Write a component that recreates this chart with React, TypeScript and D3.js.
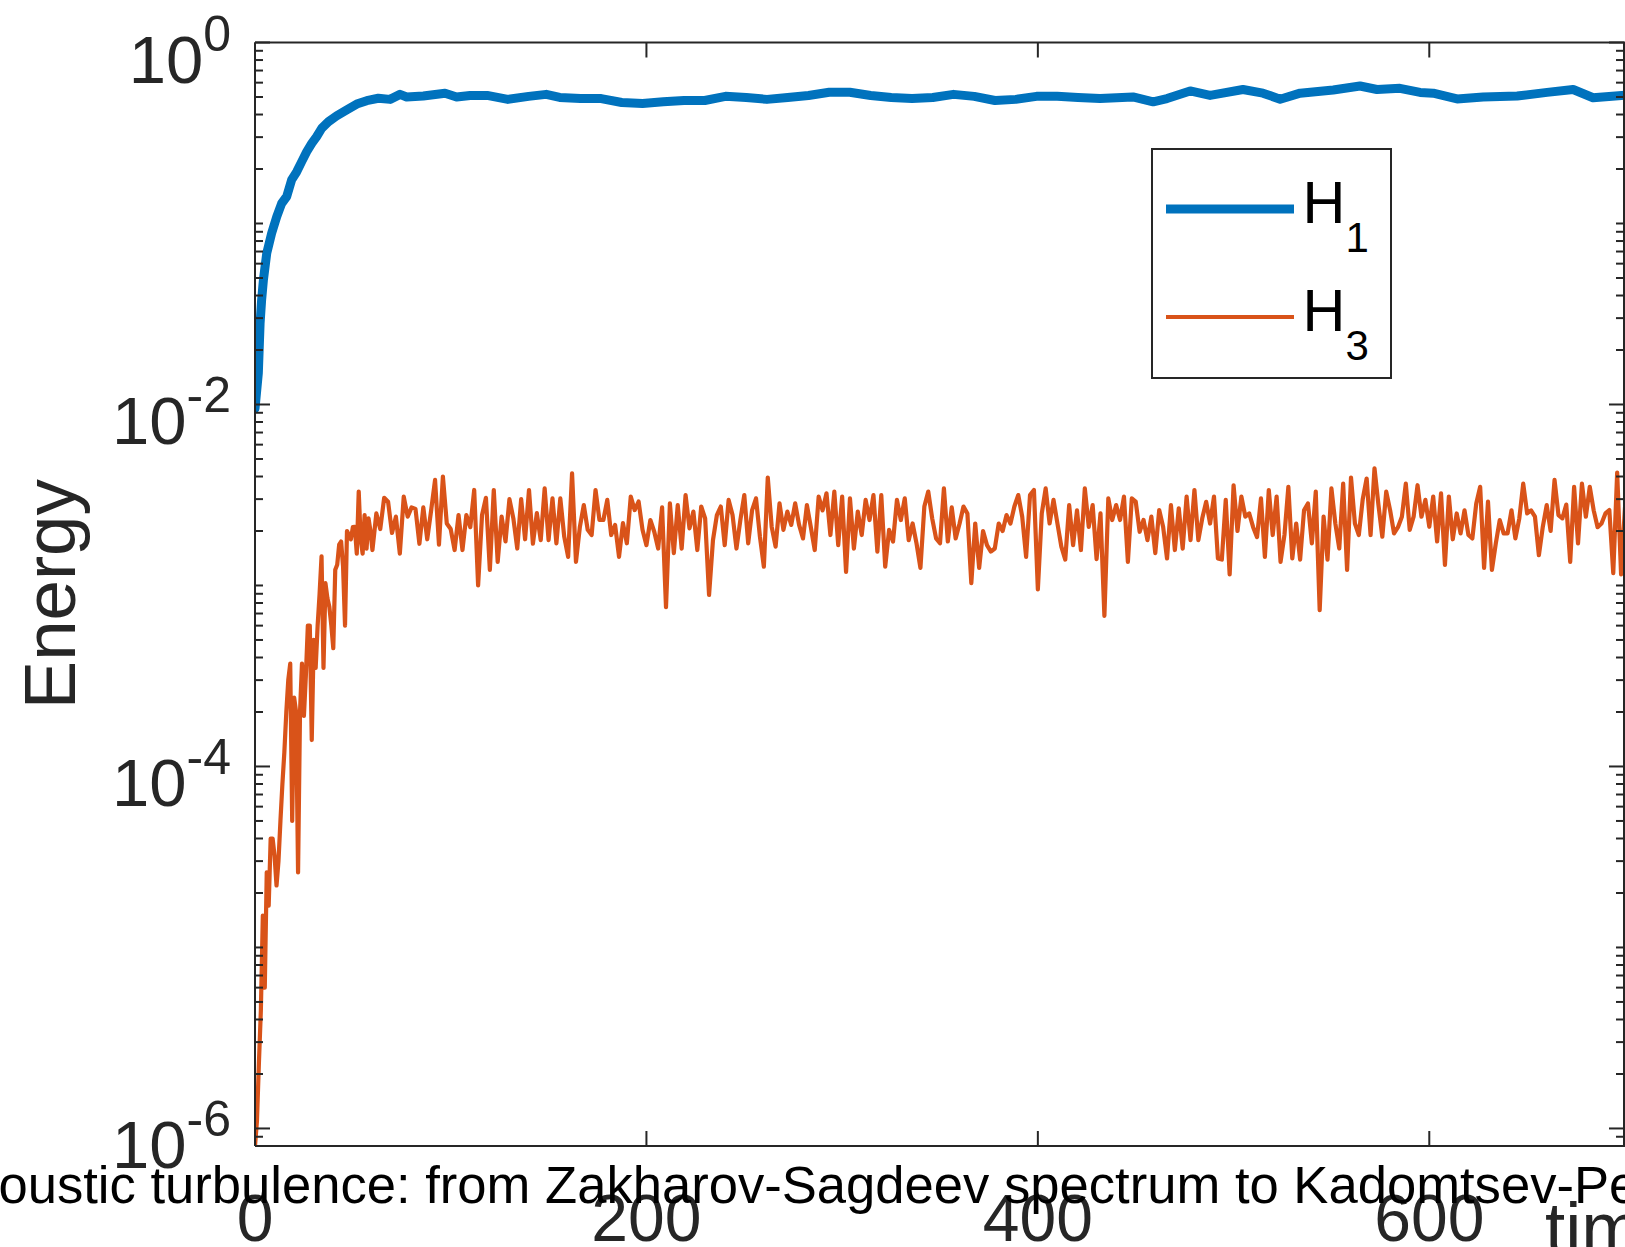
import React from "react";
import * as d3 from "d3";

// ---- layout ----
const WIDTH = 1625;
const HEIGHT = 1247;
const PLOT = { left: 255, right: 1625, top: 42.5, bottom: 1146 };

// ---- axes ----
const X_DOMAIN: [number, number] = [0, 700];
const Y_DOMAIN: [number, number] = [8e-7, 1];
const X_TICKS = [0, 200, 400, 600];
const Y_MAJOR_TICKS = [1e-6, 1e-4, 1e-2, 1];
const Y_MINOR_MANTISSAS = [1, 2, 3, 4, 5, 6, 7, 8, 9];
const Y_MINOR_EXPONENTS = [-7, -6, -5, -4, -3, -2, -1];

// ---- text ----
const TITLE = "Acoustic turbulence: from Zakharov-Sagdeev spectrum to Kadomtsev-Petviashvili spectrum";
const X_LABEL = "time";
const Y_LABEL = "Energy";
const SERIES_NAMES = [
  { base: "H", sub: "1" },
  { base: "H", sub: "3" },
];

// ---- H1: quadratic energy ----
const H1_TIME = [
  0, 1.7, 2.6, 3.4, 4.3, 6.0, 8.5, 11.1, 13.6, 16.2, 18.7, 21.3, 23.8, 26.4, 29.0, 31.5, 34.1, 37.5,
  41.7, 46.9, 52.0, 57.1, 63.0, 69.0, 74.1, 77.5, 86.0, 97.1, 103, 109.9, 118.6, 129.2, 139.8, 148.8,
  155.7, 166.3, 176.9, 187.4, 198, 208.6, 219.2, 229.8, 240.4, 251, 261.6, 272.2, 282.8, 293.4, 303.9,
  314.6, 325.1, 335.7, 346.3, 356.9, 367.5, 378.1, 388.7, 399.3, 409.9, 420.5, 431.8, 448.6, 458.9,
  466, 477.8, 488, 504.8, 515, 523.8, 534, 550.9, 564.6, 573.3, 585, 595.3, 602, 614.2, 627.5, 644.9,
  660.2, 673.5, 683.7, 700,
];
const H1_ENERGY = [
  0.0095, 0.0149, 0.0281, 0.038, 0.0488, 0.0685, 0.0883, 0.109, 0.129, 0.141, 0.174, 0.193, 0.219,
  0.249, 0.277, 0.302, 0.336, 0.365, 0.393, 0.424, 0.457, 0.477, 0.492, 0.485, 0.517, 0.5, 0.506,
  0.524, 0.5, 0.51, 0.51, 0.485, 0.504, 0.517, 0.497, 0.49, 0.49, 0.466, 0.46, 0.47, 0.478, 0.478,
  0.504, 0.497, 0.485, 0.497, 0.51, 0.531, 0.531, 0.51, 0.497, 0.49, 0.497, 0.517, 0.504, 0.478,
  0.485, 0.504, 0.504, 0.497, 0.49, 0.5, 0.47, 0.49, 0.54, 0.51, 0.55, 0.525, 0.486, 0.525, 0.547,
  0.575, 0.55, 0.558, 0.53, 0.525, 0.488, 0.5, 0.506, 0.53, 0.55, 0.495, 0.512,
];

// ---- H3: cubic energy, values in units of 1e-3 ----
// growth phase, one sample per time unit starting at t = 0
const H3_EARLY_START = 0;
const H3_EARLY_STEP = 1;
const H3_EARLY = [
  0.0008, 0.0011, 0.0023, 0.0045, 0.015, 0.006, 0.026, 0.017, 0.04, 0.04,
  0.032, 0.022, 0.03, 0.05, 0.08, 0.12, 0.2, 0.3, 0.37, 0.05,
  0.24, 0.2, 0.026, 0.2, 0.37, 0.19, 0.32, 0.6, 0.6, 0.14,
  0.5, 0.35, 0.6, 0.9, 1.45, 0.35, 1.03, 0.85, 0.76, 0.6,
  0.45, 1.22, 1.3, 1.68, 1.75, 1.27, 0.6, 2.0, 1.9, 1.8,
  2.1, 2.11, 1.5, 3.3, 1.8, 1.5, 2.45, 1.6, 2.35, 2.0,
  1.57,
];
// saturated phase, one sample every 2 time units starting at t = 62
const H3_LATE_START = 62;
const H3_LATE_STEP = 2;
const H3_LATE = [
  2.5, 2.05, 3.05, 2.9, 1.95, 2.4, 1.5, 3.1, 2.4, 2.7,
  2.65, 1.7, 2.7, 1.8, 2.6, 3.83, 1.68, 4.0, 2.2, 2.05,
  1.57, 2.45, 1.57, 2.45, 2.1, 3.37, 1.0, 2.45, 3.05, 1.22,
  3.37, 1.35, 2.4, 1.75, 3.0, 2.35, 1.6, 3.0, 1.8, 3.37,
  1.7, 2.51, 1.78, 3.44, 1.78, 3.03, 1.71, 3.03, 1.86, 1.44,
  4.17, 1.35, 2.11, 2.78, 2.03, 1.9, 3.37, 2.3, 2.3, 2.97,
  1.9, 2.16, 1.44, 2.21, 1.71, 3.1, 2.61, 2.91, 2.03, 1.67,
  2.3, 1.98, 1.6, 2.7, 0.76, 2.84, 1.51, 2.78, 1.6, 3.16,
  2.07, 2.56, 1.57, 2.73, 2.35, 0.886, 1.78, 2.45, 2.73, 1.67,
  2.97, 2.45, 1.6, 2.3, 3.16, 1.71, 2.61, 3.03, 1.86, 1.27,
  3.95, 2.11, 1.64, 2.84, 2.03, 2.56, 2.16, 2.84, 2.16, 1.82,
  2.78, 2.1, 1.57, 3.1, 2.6, 3.23, 1.9, 3.3, 1.67, 3.1,
  1.19, 3.03, 1.6, 2.56, 1.9, 2.97, 2.3, 3.16, 1.54, 3.16,
  1.27, 2.03, 1.75, 2.97, 2.3, 3.03, 1.78, 2.2, 1.71, 1.25,
  2.73, 3.3, 2.35, 1.82, 1.71, 3.44, 1.75, 2.7, 1.82, 2.2,
  2.73, 2.5, 1.03, 2.2, 1.25, 2.0, 1.67, 1.54, 1.6, 2.2,
  2.0, 2.45, 2.2, 2.73, 3.16, 2.4, 1.44, 3.16, 3.37, 0.95,
  2.5, 3.44, 2.2, 2.97, 2.2, 1.64, 1.39, 2.78, 1.67, 2.6,
  1.57, 3.44, 2.11, 2.78, 1.4, 2.5, 0.68, 3.03, 2.3, 2.78,
  2.3, 3.1, 1.35, 3.03, 2.91, 1.98, 2.3, 1.78, 2.4, 1.51,
  2.61, 2.11, 1.41, 2.78, 1.57, 2.67, 1.6, 3.1, 1.78, 3.37,
  1.78, 2.35, 2.9, 2.2, 3.1, 1.41, 1.39, 2.97, 1.15, 3.58,
  2.0, 3.1, 2.4, 2.5, 2.1, 1.85, 3.03, 1.44, 3.37, 1.9,
  3.1, 1.35, 1.9, 3.51, 1.41, 2.2, 1.39, 2.6, 2.84, 1.71,
  3.3, 0.73, 2.4, 1.39, 3.44, 2.2, 1.6, 3.65, 1.22, 3.95,
  2.2, 1.9, 3.0, 3.9, 1.9, 4.44, 2.8, 1.86, 3.3, 2.6,
  1.94, 2.1, 2.4, 3.65, 2.03, 2.4, 3.58, 2.4, 2.97, 2.11,
  3.1, 1.75, 3.23, 1.3, 3.1, 1.8, 2.5, 1.94, 2.6, 1.9,
  1.82, 2.84, 3.51, 1.25, 2.91, 1.22, 1.71, 2.3, 1.94, 1.94,
  2.6, 1.82, 2.35, 3.65, 2.5, 2.6, 2.4, 1.47, 2.11, 2.78,
  2.0, 3.83, 2.45, 2.35, 2.8, 1.35, 3.51, 1.71, 3.65, 2.4,
  3.51, 2.6, 2.1, 2.2, 2.5, 2.61, 1.17, 4.2, 1.15, 2.7,
];
const H3_UNIT = 1e-3;

// ---- style ----
const FONT = "'Liberation Sans', Arial, Helvetica, sans-serif";
const AXIS_COLOR = "#262626";
const H1_COLOR = "#0072BD";
const H3_COLOR = "#D95319";

type Pt = [number, number];

const h1Points: Pt[] = H1_TIME.map((t, i) => [t, H1_ENERGY[i]]);
const h3Points: Pt[] = [
  ...H3_EARLY.map((v, i) => [H3_EARLY_START + i * H3_EARLY_STEP, v * H3_UNIT] as Pt),
  ...H3_LATE.map((v, i) => [H3_LATE_START + i * H3_LATE_STEP, v * H3_UNIT] as Pt),
];

export default function App() {
  const x = d3.scaleLinear().domain(X_DOMAIN).range([PLOT.left, PLOT.right]);
  const y = d3.scaleLog().domain(Y_DOMAIN).range([PLOT.bottom, PLOT.top]);

  const line = d3
    .line<Pt>()
    .x((d) => x(d[0]))
    .y((d) => y(d[1]));

  const isMajor = (v: number) => Y_MAJOR_TICKS.some((m) => Math.abs(m - v) / m < 1e-6);
  const minorTicks: number[] = [];
  Y_MINOR_EXPONENTS.forEach((e) =>
    Y_MINOR_MANTISSAS.forEach((m) => {
      const v = m * Math.pow(10, e);
      if (v >= Y_DOMAIN[0] * 0.999 && v <= Y_DOMAIN[1] && !isMajor(v)) minorTicks.push(v);
    })
  );

  const rightX = PLOT.right - 1;
  const MAJOR_LEN = 15;
  const MINOR_LEN = 8;

  // legend geometry
  const LEG = { x: 1152, y: 149, w: 239, h: 229 };
  const legRows = [
    { y: 209, color: H1_COLOR, width: 9, name: SERIES_NAMES[0] },
    { y: 317, color: H3_COLOR, width: 4.2, name: SERIES_NAMES[1] },
  ];

  return (
    <svg
      width={WIDTH}
      height={HEIGHT}
      viewBox={`0 0 ${WIDTH} ${HEIGHT}`}
      style={{ position: "absolute", left: 0, top: 0, display: "block", background: "#ffffff" }}
      fontFamily={FONT}
    >
      <defs>
        <clipPath id="plot-area">
          <rect x={PLOT.left} y={PLOT.top} width={PLOT.right - PLOT.left} height={PLOT.bottom - PLOT.top} />
        </clipPath>
      </defs>
      <rect x={0} y={0} width={WIDTH} height={HEIGHT} fill="#ffffff" />

      {/* data */}
      <g clipPath="url(#plot-area)">
        <path
          d={line(h1Points) || ""}
          fill="none"
          stroke={H1_COLOR}
          strokeWidth={9}
          strokeLinejoin="round"
          strokeLinecap="round"
        />
        <path
          d={line(h3Points) || ""}
          fill="none"
          stroke={H3_COLOR}
          strokeWidth={4.2}
          strokeLinejoin="round"
          strokeLinecap="round"
        />
      </g>

      {/* axes box */}
      <g stroke={AXIS_COLOR} strokeWidth={2} fill="none">
        <line x1={PLOT.left} x2={PLOT.left} y1={PLOT.top} y2={PLOT.bottom} />
        <line x1={rightX} x2={rightX} y1={PLOT.top} y2={PLOT.bottom} />
        <line x1={PLOT.left} x2={PLOT.right} y1={PLOT.top} y2={PLOT.top} />
        <line x1={PLOT.left} x2={PLOT.right} y1={PLOT.bottom} y2={PLOT.bottom} />

        {X_TICKS.map((t) => (
          <g key={`xt${t}`}>
            <line x1={x(t)} x2={x(t)} y1={PLOT.bottom} y2={PLOT.bottom - MAJOR_LEN} />
            <line x1={x(t)} x2={x(t)} y1={PLOT.top} y2={PLOT.top + MAJOR_LEN} />
          </g>
        ))}
        {Y_MAJOR_TICKS.map((v) => (
          <g key={`ym${v}`}>
            <line x1={PLOT.left} x2={PLOT.left + MAJOR_LEN} y1={y(v)} y2={y(v)} />
            <line x1={rightX} x2={rightX - MAJOR_LEN} y1={y(v)} y2={y(v)} />
          </g>
        ))}
        {minorTicks.map((v) => (
          <g key={`yn${v}`}>
            <line x1={PLOT.left} x2={PLOT.left + MINOR_LEN} y1={y(v)} y2={y(v)} />
            <line x1={rightX} x2={rightX - MINOR_LEN} y1={y(v)} y2={y(v)} />
          </g>
        ))}
      </g>

      {/* y tick labels */}
      {Y_MAJOR_TICKS.map((v) => {
        const exp = Math.round(Math.log10(v));
        return (
          <text key={`yl${v}`} x={231} y={y(v) + 40} textAnchor="end" fontSize={67} fill={AXIS_COLOR}>
            10
            <tspan dy={-32} fontSize={50}>
              {String(exp)}
            </tspan>
          </text>
        );
      })}

      {/* x tick labels */}
      {X_TICKS.map((t) => (
        <text key={`xl${t}`} x={x(t)} y={1241} textAnchor="middle" fontSize={66} fill={AXIS_COLOR}>
          {String(t)}
        </text>
      ))}

      {/* axis labels */}
      <text
        transform={`translate(74.6, ${(PLOT.top + PLOT.bottom) / 2}) rotate(-90)`}
        textAnchor="middle"
        fontSize={72.6}
        fill={AXIS_COLOR}
      >
        {Y_LABEL}
      </text>
      <text x={1545} y={1253} fontSize={72.6} fill={AXIS_COLOR}>
        {X_LABEL}
      </text>

      {/* title */}
      <text x={-63} y={1202.7} fontSize={52.6} fill="#000000">
        {TITLE}
      </text>

      {/* legend */}
      <g>
        <rect x={LEG.x} y={LEG.y} width={LEG.w} height={LEG.h} fill="#ffffff" stroke={AXIS_COLOR} strokeWidth={2} />
        {legRows.map((r, i) => (
          <g key={`lg${i}`}>
            <line x1={1166} x2={1294} y1={r.y} y2={r.y} stroke={r.color} strokeWidth={r.width} />
            <text x={1302.5} y={r.y + 13.7} fontSize={59.4} fill="#000000">
              {r.name.base}
              <tspan dy={29} fontSize={42}>
                {r.name.sub}
              </tspan>
            </text>
          </g>
        ))}
      </g>
    </svg>
  );
}
